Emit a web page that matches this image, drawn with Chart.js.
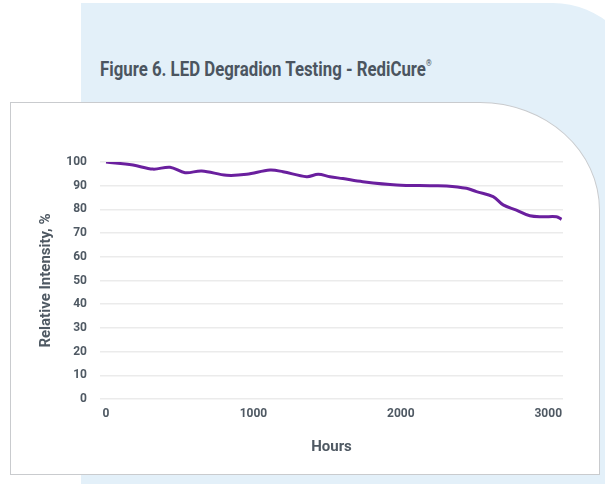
<!DOCTYPE html>
<html>
<head>
<meta charset="utf-8">
<script src="https://cdn.jsdelivr.net/npm/chart.js@4"></script>
<style>
  html, body { margin:0; padding:0; width:605px; height:484px; overflow:hidden; background:#fff; }
  #panel { position:absolute; left:81px; top:3px; width:560px; height:481px; background:#e3f0f9; border-top-right-radius:88px; }
  #title { position:absolute; left:100px; top:57px; font-family:Roboto,sans-serif; font-weight:bold; font-size:21px; color:#4b5560; white-space:nowrap; transform:scaleX(0.80); transform-origin:0 0; }
  #title sup { font-size:9px; vertical-align:10px; }
  #card { position:absolute; left:10px; top:102px; width:588px; height:371px; background:#fff; border:1.5px solid #c9cbce; border-top-right-radius:120px 108px; }
  #wrap { position:absolute; left:11px; top:103px; width:589px; height:372px; }
</style>
</head>
<body>
<div id="panel"></div>
<div id="title">Figure 6. LED Degradion Testing - RediCure<sup>®</sup></div>
<div id="card"></div>
<div id="wrap"><canvas id="c" width="589" height="372"></canvas></div>
<script>
const hours = [0, 183, 319, 434, 536, 649, 818, 954, 1112, 1200, 1361, 1439, 1519, 1607, 1742, 1971, 2197, 2310, 2445, 2513, 2626, 2694, 2784, 2875, 2965, 3056, 3090];
const intensity = [100, 98.7, 97, 97.8, 95.5, 96.2, 94.4, 94.8, 96.6, 95.9, 93.8, 94.8, 93.8, 93.0, 91.7, 90.3, 90.0, 89.9, 88.9, 87.5, 85.4, 81.9, 79.7, 77.3, 76.9, 76.9, 75.8];
const xTicks = [0, 1000, 2000, 3000];
const yTicks = [0, 10, 20, 30, 40, 50, 60, 70, 80, 90, 100];

const FONT = "Roboto,sans-serif";
const TXT = '#4f5963';

new Chart(document.getElementById('c'), {
  type: 'line',
  data: {
    datasets: [{
      data: hours.map((h, i) => ({x: h, y: intensity[i]})),
      borderColor: '#6a1f9e',
      borderWidth: 3,
      pointRadius: 0,
      tension: 0.35,
      fill: false
    }]
  },
  options: {
    responsive: false,
    animation: false,
    layout: { padding: { left: 0, top: 59, right: 37, bottom: 0 } },
    plugins: { legend: { display: false }, tooltip: { enabled: false } },
    scales: {
      x: {
        type: 'linear',
        min: -41, max: 3100,
        afterBuildTicks: s => { s.ticks = xTicks.map(v => ({value: v})); },
        afterFit: s => { s.height = 76; },
        grid: { display: false, drawTicks: false },
        border: { display: false },
        ticks: { padding: 8, color: TXT, font: { family: FONT, size: 12, weight: 'bold' }, maxRotation: 0, callback: v => String(v) },
        title: { display: true, text: 'Hours', color: TXT, font: { family: FONT, size: 15, weight: 'bold' }, padding: { top: 0, bottom: 19 } }
      },
      y: {
        min: 0, max: 100,
        afterBuildTicks: s => { s.ticks = yTicks.map(v => ({value: v})); },
        afterFit: s => { s.width = 89; },
        grid: { color: '#ebebeb', lineWidth: 1.5, drawTicks: false },
        border: { display: false },
        ticks: { padding: 13, color: TXT, font: { family: FONT, size: 12, weight: 'bold' }, callback: v => String(v) },
        title: { display: true, text: 'Relative Intensity, %', color: TXT, font: { family: FONT, size: 15, weight: 'bold' }, padding: { top: 26, bottom: 0 } }
      }
    }
  }
});
</script>
</body>
</html>
